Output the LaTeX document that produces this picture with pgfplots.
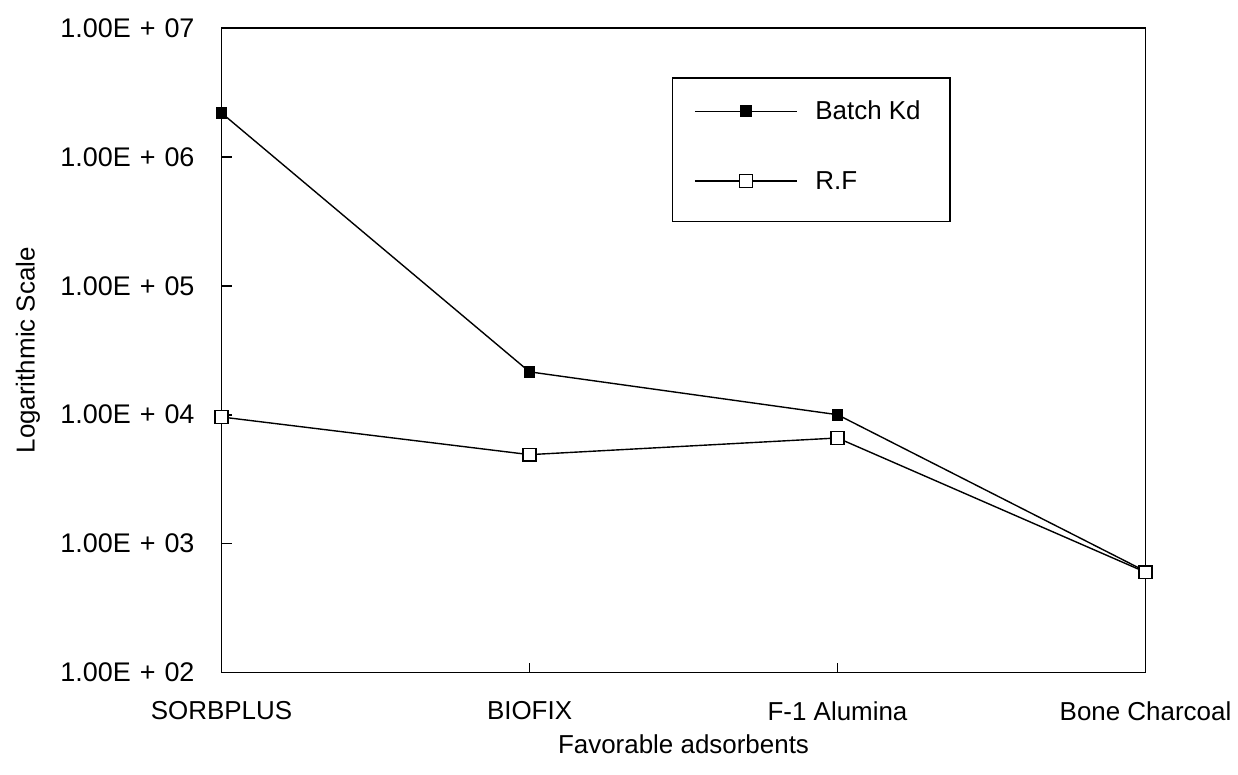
\documentclass[border=0pt]{standalone}
\usepackage{pgfplots}
\pgfplotsset{compat=1.18}
\usepackage{fontspec}
\setmainfont{Liberation Sans}
\usetikzlibrary{calc}
\newcommand{\E}[1]{\fontsize{13.5}{16}\selectfont 1.00E\kern4.5pt+\kern4.5pt#1}
\begin{document}
\begin{tikzpicture}[font=\fontsize{13}{15.6}\selectfont]
\begin{axis}[
  scale only axis, width=463pt, height=323pt,
  ymode=log, ymin=1e2, ymax=1e7, xmin=0, xmax=3,
  xtick={0,1,2,3},
  xticklabels={SORBPLUS,BIOFIX,F-1 Alumina,Bone Charcoal},
  ytick={1e2,1e3,1e4,1e5,1e6,1e7},
  yticklabels={{\E{02}},{\E{03}},{\E{04}},{\E{05}},{\E{06}},{\E{07}}},
  yminorticks=false,
  tick align=inside, xtick pos=bottom, ytick pos=left,
  major tick length=5pt,
  axis line style={line width=0.8pt},
  every tick/.style={black,line width=0.8pt},
  yticklabel style={xshift=-10pt},
  xticklabel style={yshift=-11pt},
  xlabel={Favorable adsorbents}, ylabel={Logarithmic Scale},
  xlabel style={at={(axis description cs:0.5,-0.1115)},anchor=center},
  ylabel style={at={(axis description cs:-0.2095,0.5)},anchor=center},
  clip=false,
  legend cell align=left,
  legend style={at={(axis description cs:0.487,0.924)}, anchor=north west,
    draw=black, line width=0.8pt, inner xsep=11pt, inner ysep=12pt, row sep=22pt,
    nodes={inner sep=0pt, text height=9pt, text depth=4pt},
    /tikz/every odd column/.append style={column sep=9pt}},
  legend image code/.code={\draw[mark repeat=2,mark phase=2,#1] plot coordinates {(0pt,1.7pt) (25.5pt,1.7pt) (51pt,1.7pt)};},
]
\addplot[black, line width=0.7pt, mark=square*, mark size=2.6pt, mark options={fill=black}]
  coordinates {(0,2.19e6) (1,2.15e4) (2,1.0e4) (3,610)};
\addlegendentry{\makebox[56.5pt][l]{Batch Kd}}
\addplot[black, line width=0.7pt, mark=square*, mark size=3.2pt, mark options={fill=white}]
  coordinates {(0,9.6e3) (1,4.9e3) (2,6.6e3) (3,600)};
\addlegendentry{\makebox[56.5pt][l]{R.F}}
\end{axis}
\path[use as bounding box] ($(current axis.south west)+(-111pt,-51pt)$) rectangle ($(current axis.north east)+(45pt,14pt)$);
\end{tikzpicture}
\end{document}
